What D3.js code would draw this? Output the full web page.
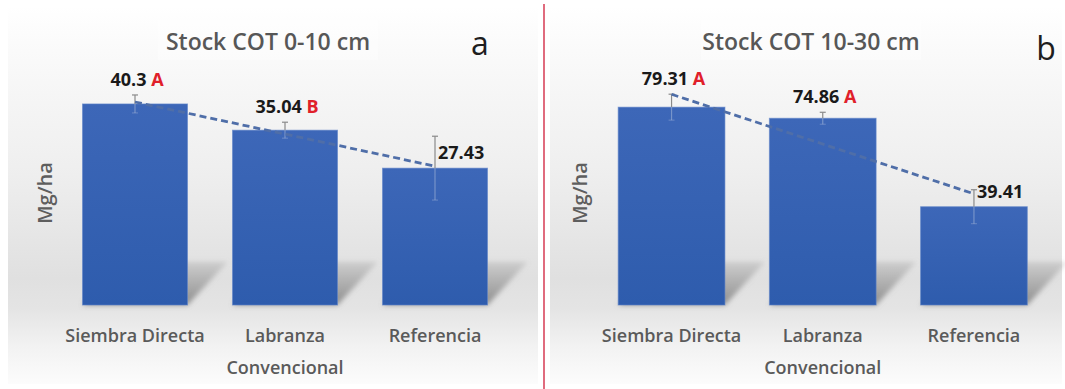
<!DOCTYPE html>
<html>
<head>
<meta charset="utf-8">
<script src="https://cdn.jsdelivr.net/npm/d3@7/dist/d3.min.js"></script>
<style>
  html, body { margin: 0; padding: 0; background: #ffffff; }
  svg { display: block; }
  text { font-family: "Open Sans", "DejaVu Sans", sans-serif; }
</style>
</head>
<body>
<svg id="chart" width="1065" height="389"></svg>
<script>
// Treatments, shared by both panels (second line used for wrapped names)
const categories = ["Siembra Directa", "Labranza Convencional", "Referencia"];
const categoryLines = [["Siembra Directa"], ["Labranza", "Convencional"], ["Referencia"]];

// Panel a: soil organic carbon stock 0-10 cm (Mg/ha)
const stockTop = [40.3, 35.04, 27.43];
const errTop = [1.8, 1.6, 6.4];
const lettersTop = ["A", "B", ""];

// Panel b: soil organic carbon stock 10-30 cm (Mg/ha)
const stockSub = [79.31, 74.86, 39.41];
const errSub = [5.2, 2.4, 6.8];
const lettersSub = ["A", "A", ""];

const svg = d3.select("#chart");
const defs = svg.append("defs");

// Panel background: white top fading to light gray near the bar base
const bg = defs.append("linearGradient").attr("id", "panelBg")
  .attr("x1", 0).attr("y1", 0).attr("x2", 0).attr("y2", 1);
[[0, "#ffffff"], [0.12, "#fafafa"], [0.45, "#eeeeee"], [0.72, "#e0e0e0"],
 [0.8, "#e4e4e4"], [0.9, "#f2f2f2"], [1, "#fcfcfc"]]
  .forEach(([o, c]) => bg.append("stop").attr("offset", o).attr("stop-color", c));

// Bar fill: slightly lighter at the top
const barGrad = defs.append("linearGradient").attr("id", "barFill")
  .attr("x1", 0).attr("y1", 0).attr("x2", 0).attr("y2", 1);
barGrad.append("stop").attr("offset", 0).attr("stop-color", "#3d67b8");
barGrad.append("stop").attr("offset", 1).attr("stop-color", "#2e5cad");

// Soft cast shadow behind each bar
const shGrad = defs.append("linearGradient").attr("id", "shadowFill")
  .attr("x1", 0).attr("y1", 0).attr("x2", 0).attr("y2", 1);
shGrad.append("stop").attr("offset", 0).attr("stop-color", "#999999").attr("stop-opacity", 0.3);
shGrad.append("stop").attr("offset", 1).attr("stop-color", "#828282").attr("stop-opacity", 0.9);
defs.append("filter").attr("id", "soft").attr("x", "-20%").attr("y", "-20%")
  .attr("width", "140%").attr("height", "140%")
  .append("feGaussianBlur").attr("stdDeviation", 2.5);

const baseY = 305, topY = 80.5;

function drawPanel(cfg) {
  const g = svg.append("g");

  g.append("rect")
    .attr("x", cfg.left).attr("y", 6)
    .attr("width", cfg.right - cfg.left).attr("height", 378)
    .attr("fill", "url(#panelBg)");

  const x = d3.scaleBand()
    .domain(categories)
    .range(cfg.xRange)
    .paddingInner(cfg.padIn)
    .paddingOuter(0.15);
  const y = d3.scaleLinear().domain([0, cfg.yMax]).range([baseY, topY]);

  // Shadows
  g.selectAll("path.shadow")
    .data(categories)
    .join("path")
    .attr("class", "shadow")
    .attr("d", c => {
      const x0 = x(c), x1 = x(c) + x.bandwidth();
      return `M${x0},${baseY}L${x1},${baseY}L${x1 + 40},${baseY - 43}L${x0 + 40},${baseY - 43}Z`;
    })
    .attr("fill", "url(#shadowFill)")
    .attr("filter", "url(#soft)");

  // Bars
  g.selectAll("rect.bar")
    .data(cfg.values)
    .join("rect")
    .attr("class", "bar")
    .attr("x", (d, i) => x(categories[i]))
    .attr("y", d => y(d))
    .attr("width", x.bandwidth())
    .attr("height", d => baseY - y(d))
    .attr("fill", "url(#barFill)")
    .attr("stroke", "#5f84c8")
    .attr("stroke-opacity", 0.6)
    .attr("stroke-width", 1);

  // Error bars (the part over the bar is faint)
  const cx = i => x(categories[i]) + x.bandwidth() / 2;
  const eg = g.append("g").attr("stroke", "#8a8a8a").attr("stroke-width", 1.2);
  cfg.values.forEach((v, i) => {
    const e = cfg.errors[i];
    eg.append("line").attr("x1", cx(i)).attr("x2", cx(i))
      .attr("y1", y(v + e)).attr("y2", y(v));
    eg.append("line").attr("x1", cx(i)).attr("x2", cx(i))
      .attr("y1", y(v)).attr("y2", y(v - e)).attr("stroke", "#9fb2d6").attr("stroke-opacity", 0.6);
    eg.append("line").attr("x1", cx(i) - 3).attr("x2", cx(i) + 3)
      .attr("y1", y(v + e)).attr("y2", y(v + e));
    eg.append("line").attr("x1", cx(i) - 3).attr("x2", cx(i) + 3)
      .attr("y1", y(v - e)).attr("y2", y(v - e)).attr("stroke", "#9fb2d6").attr("stroke-opacity", 0.4);
  });

  // Linear trendline across the three treatments
  const n = cfg.values.length;
  const xs = d3.range(1, n + 1);
  const mx = d3.mean(xs), my = d3.mean(cfg.values);
  const slope = d3.sum(xs, (xi, i) => (xi - mx) * (cfg.values[i] - my)) /
                d3.sum(xs, xi => (xi - mx) ** 2);
  const fit = xi => my + slope * (xi - mx);
  const trend = [0, n - 1].map(i => [cx(i), y(fit(xs[i]))]);
  g.append("path")
    .attr("d", d3.line()(trend))
    .attr("fill", "none")
    .attr("stroke", "#4f6ea8")
    .attr("stroke-width", 2.8)
    .attr("stroke-dasharray", "7,4");

  // Value labels with significance letters
  cfg.values.forEach((v, i) => {
    const t = g.append("text")
      .attr("font-size", 18).attr("font-weight", 700).attr("fill", "#1a1a1a");
    if (cfg.letters[i]) {
      t.attr("x", cx(i) + 2).attr("y", y(v + cfg.errors[i]) - 9)
        .attr("text-anchor", "middle");
      t.append("tspan").text(String(v));
      t.append("tspan").attr("fill", "#e0202a").text(" " + cfg.letters[i]);
    } else {
      t.attr("x", cx(i) + 3).attr("y", y(v) - 9).attr("text-anchor", "start")
        .text(String(v));
    }
  });

  // Category labels
  categoryLines.forEach((lines, i) => {
    const t = g.append("text")
      .attr("text-anchor", "middle").attr("font-size", 18).attr("font-weight", 600)
      .attr("fill", "#5a5a5a");
    lines.forEach((ln, k) => {
      t.append("tspan").attr("x", cx(i)).attr("y", 342 + k * 32).text(ln);
    });
  });

  // Axis title
  g.append("text")
    .attr("transform", `translate(${cfg.yLabelX},193) rotate(-90)`)
    .attr("text-anchor", "middle").attr("dominant-baseline", "central")
    .attr("font-size", 20).attr("font-weight", 600).attr("fill", "#5e5e5e")
    .text("Mg/ha");

  // Title and panel letter
  g.append("rect").attr("x", cfg.titleX - 110).attr("y", 20)
    .attr("width", 220).attr("height", 40).attr("fill", "#ffffff").attr("opacity", 0.35);
  g.append("text")
    .attr("x", cfg.titleX).attr("y", 50)
    .attr("text-anchor", "middle").attr("font-size", 23).attr("font-weight", 600)
    .attr("fill", "#575757")
    .text(cfg.title);
  g.append("text")
    .attr("x", cfg.letterX).attr("y", cfg.letterY)
    .attr("text-anchor", "middle").attr("font-size", 32)
    .attr("fill", "#1e1e1e")
    .text(cfg.panel);
}

drawPanel({
  left: 8, right: 538, xRange: [60, 510], padIn: 0.3, yMax: 45,
  values: stockTop, errors: errTop, letters: lettersTop,
  title: "Stock COT 0-10 cm", titleX: 268, panel: "a", letterX: 480, letterY: 55,
  yLabelX: 44
});

drawPanel({
  left: 550, right: 1062, xRange: [595.5, 1050], padIn: 0.294, yMax: 90,
  values: stockSub, errors: errSub, letters: lettersSub,
  title: "Stock COT 10-30 cm", titleX: 811, panel: "b", letterX: 1046, letterY: 60,
  yLabelX: 579
});

// Divider between the two panels
svg.append("line")
  .attr("x1", 544).attr("x2", 544).attr("y1", 4).attr("y2", 389)
  .attr("stroke", "#d9475e").attr("stroke-width", 1.6);
</script>
</body>
</html>
